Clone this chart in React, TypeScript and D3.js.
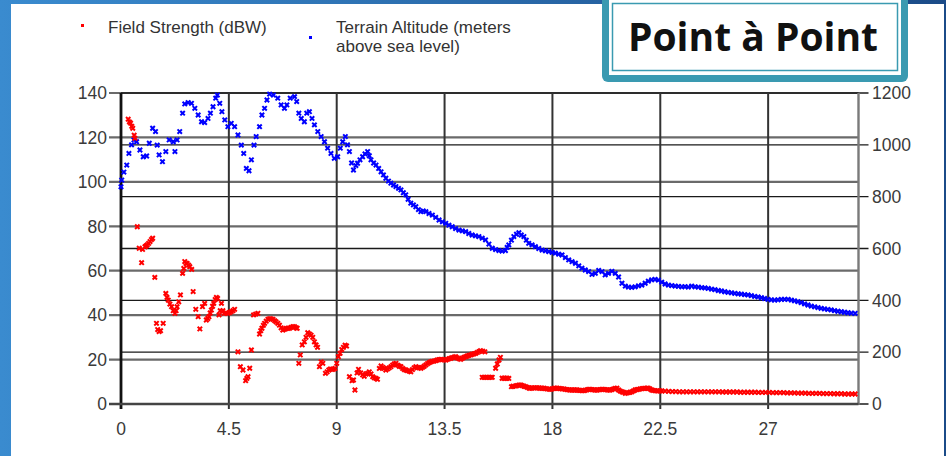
import React, { useEffect, useRef } from 'react';
import * as d3 from 'd3';

const title = 'Point à Point';
const legendField = 'Field Strength (dBW)';
const legendTerrain = ['Terrain Altitude (meters', 'above sea level)'];

const xTicks = [0, 4.5, 9, 13.5, 18, 22.5, 27];
const leftTicks = [0, 20, 40, 60, 80, 100, 120, 140];
const rightTicks = [0, 200, 400, 600, 800, 1000, 1200];

// [distance, dBW]
const fieldStrength: [number, number][] = [
  [0.30, 128.2], [0.35, 127], [0.40, 126.4], [0.45, 125], [0.49, 124.1], [0.55, 121], [0.58, 119.6],
  [0.68, 79.8], [0.76, 70.1], [0.86, 63.6], [0.90, 69.6], [1.00, 70.8], [1.05, 71.2], [1.09, 71.6],
  [1.15, 72.3], [1.21, 73.1], [1.27, 74], [1.32, 74.6], [1.41, 57.0], [1.48, 36.3], [1.53, 33.5],
  [1.59, 32.6], [1.65, 33], [1.76, 36.3], [1.87, 49.8], [1.92, 48], [1.97, 46.8], [2.04, 45],
  [2.11, 43.8], [2.18, 42], [2.25, 40.8], [2.30, 42], [2.34, 43.8], [2.41, 46], [2.48, 49.1],
  [2.57, 58.8], [2.62, 61], [2.66, 64.1], [2.71, 63.3], [2.76, 63.3], [2.82, 62.5], [2.87, 61.8],
  [2.95, 60.6], [3.01, 50.6], [3.12, 42.6], [3.22, 39.3], [3.29, 33.8], [3.40, 43.8], [3.49, 45.3],
  [3.56, 37.8], [3.62, 38.5], [3.67, 39.3], [3.72, 41], [3.77, 42.3], [3.82, 44], [3.87, 45.3],
  [3.93, 47], [3.98, 48.0], [4.03, 47.5], [4.09, 40.1], [4.14, 42], [4.19, 45.3], [4.25, 42],
  [4.30, 40.8], [4.38, 41], [4.46, 40.8], [4.53, 41.2], [4.60, 41.6], [4.67, 42], [4.74, 42.6],
  [4.88, 23.5], [4.98, 16.8], [5.09, 15.3], [5.20, 10.5], [5.25, 11.5], [5.30, 12.3], [5.37, 16.1],
  [5.44, 24.3], [5.53, 40.1], [5.62, 40.5], [5.71, 40.8], [5.78, 31.5], [5.83, 33], [5.88, 34.1],
  [5.94, 35.4], [5.99, 36.3], [6.06, 37.3], [6.13, 38.1], [6.20, 38.4], [6.27, 38.3], [6.34, 38.1],
  [6.41, 37.5], [6.47, 37], [6.54, 36.3], [6.61, 35.5], [6.68, 34.3], [6.75, 33.3], [6.82, 33.6],
  [6.89, 34], [6.96, 34.1], [7.03, 34.1], [7.10, 34.5], [7.17, 34.8], [7.24, 34.8], [7.30, 34.3],
  [7.35, 34.1], [7.42, 18.3], [7.48, 22.1], [7.56, 26.6], [7.65, 28.0], [7.72, 30], [7.79, 32.1],
  [7.86, 31.5], [7.93, 31], [8.00, 30.0], [8.07, 28], [8.14, 26.6], [8.20, 25.5], [8.28, 16.8],
  [8.35, 19], [8.42, 18.3], [8.53, 13.8], [8.60, 14.5], [8.67, 15.3], [8.74, 15.8], [8.80, 15.6],
  [8.86, 15.6], [8.93, 16], [9.00, 18.3], [9.07, 21.3], [9.14, 22.8], [9.21, 24.5], [9.28, 25.5],
  [9.35, 26.5], [9.41, 26.1], [9.53, 12.3], [9.64, 10.5], [9.70, 10.8], [9.76, 6.3], [9.85, 14],
  [9.91, 15.6], [10.00, 14], [10.08, 13.1], [10.15, 12.5], [10.22, 13.5], [10.29, 13.8], [10.36, 14.5],
  [10.43, 13.5], [10.50, 12.3], [10.57, 11.8], [10.64, 11.5], [10.70, 11.1], [10.78, 16], [10.85, 17.1],
  [10.92, 16.5], [10.98, 16], [11.05, 15.3], [11.12, 15.8], [11.19, 16.3], [11.26, 16.8], [11.33, 17.5],
  [11.40, 18], [11.47, 18.3], [11.54, 17.5], [11.61, 17], [11.68, 16.8], [11.75, 16], [11.82, 15.5],
  [11.88, 15.3], [11.95, 15], [12.02, 14.8], [12.09, 14.5], [12.16, 15.5], [12.23, 16.3], [12.30, 16.8],
  [12.37, 16.5], [12.44, 16.3], [12.51, 16.1], [12.58, 16.5], [12.65, 17], [12.72, 17.6], [12.79, 18.2],
  [12.86, 18.6], [12.92, 19.0], [12.99, 19.2], [13.06, 19.3], [13.13, 19.5], [13.20, 19.8], [13.27, 20],
  [13.34, 20.1], [13.41, 20], [13.48, 19.9], [13.55, 19.8], [13.62, 20.1], [13.69, 20.4], [13.76, 20.6],
  [13.83, 20.9], [13.90, 21.1], [13.96, 21.3], [14.03, 20.8], [14.10, 20.4], [14.17, 20.1], [14.24, 20.6],
  [14.31, 21], [14.38, 21.3], [14.45, 21.6], [14.52, 21.9], [14.59, 22.1], [14.66, 22.4], [14.73, 22.6],
  [14.80, 22.8], [14.87, 23.2], [14.94, 23.6], [15.00, 24.0], [15.09, 23.8], [15.18, 23.5],
  [15.07, 12.0], [15.14, 12.0], [15.21, 12.0], [15.28, 12.0], [15.35, 12.0], [15.42, 12.0], [15.49, 12.0],
  [15.63, 16.1], [15.70, 18], [15.77, 19.8], [15.83, 21.0], [15.90, 11.6], [15.97, 11.6], [16.04, 11.6],
  [16.11, 11.6], [16.18, 11.5], [16.29, 7.8], [16.36, 8], [16.46, 8.1], [16.53, 8.3], [16.60, 8.5],
  [16.67, 8.6], [16.74, 8.3], [16.81, 8], [16.88, 7.8], [16.95, 7.5], [17.02, 7.2], [17.08, 7.1],
  [17.15, 7.2], [17.22, 7.3], [17.29, 7.3], [17.36, 7.3], [17.43, 7.2], [17.50, 7.1], [17.57, 7.1],
  [17.64, 7.1], [17.71, 6.9], [17.78, 6.8], [17.85, 6.7], [17.92, 6.6], [17.99, 6.8], [18.06, 7],
  [18.12, 7.1], [18.19, 7.1], [18.26, 7], [18.33, 6.9], [18.40, 6.8], [18.47, 6.8], [18.54, 6.6],
  [18.61, 6.5], [18.68, 6.4], [18.75, 6.3], [18.82, 6.3], [18.89, 6.3], [18.96, 6.3], [19.02, 6.3],
  [19.09, 6.2], [19.16, 6.1], [19.23, 6.0], [19.30, 6.0], [19.37, 6.2], [19.44, 6.4], [19.51, 6.6],
  [19.58, 6.6], [19.65, 6.5], [19.72, 6.4], [19.79, 6.3], [19.85, 6.3], [19.92, 6.4], [19.99, 6.5],
  [20.06, 6.6], [20.13, 6.6], [20.20, 6.5], [20.27, 6.4], [20.34, 6.3], [20.41, 6.3], [20.48, 6.5],
  [20.55, 6.8], [20.62, 7.0], [20.69, 7.1], [20.76, 6.3], [20.83, 5.8], [20.90, 5.5], [20.96, 5.3],
  [21.04, 4.8], [21.10, 5.0], [21.17, 5.1], [21.24, 5.3], [21.31, 5.5], [21.38, 5.9], [21.45, 6.3],
  [21.52, 6.5], [21.59, 6.6], [21.66, 6.8], [21.73, 6.9], [21.80, 7.0], [21.87, 7.0], [21.94, 7.1],
  [22.00, 7.1], [22.07, 6.8], [22.14, 6.3], [22.21, 6.1], [22.28, 6.0], [22.35, 5.9], [22.42, 5.9],
  [22.49, 5.9], [22.56, 5.9], [22.70, 5.8], [22.85, 5.7], [23.00, 5.6], [23.15, 5.6], [23.30, 5.5],
  [23.45, 5.5], [23.60, 5.5], [23.75, 5.5], [23.90, 5.5], [24.05, 5.5], [24.20, 5.5], [24.35, 5.5],
  [24.50, 5.5], [24.65, 5.5], [24.80, 5.5], [24.95, 5.5], [25.10, 5.4], [25.25, 5.4], [25.40, 5.4],
  [25.55, 5.4], [25.70, 5.4], [25.85, 5.3], [26.00, 5.3], [26.15, 5.3], [26.30, 5.3], [26.45, 5.3],
  [26.60, 5.2], [26.75, 5.2], [26.90, 5.2], [27.05, 5.2], [27.20, 5.1], [27.35, 5.1], [27.50, 5.1],
  [27.65, 5.1], [27.80, 5.0], [27.95, 5.0], [28.10, 5.0], [28.25, 4.9], [28.40, 4.9], [28.55, 4.9],
  [28.70, 4.8], [28.85, 4.8], [29.00, 4.8], [29.15, 4.8], [29.30, 4.7], [29.45, 4.7], [29.60, 4.7],
  [29.75, 4.6], [29.90, 4.6], [30.05, 4.6], [30.20, 4.5], [30.35, 4.5], [30.50, 4.5], [30.63, 4.5],
];

// [distance, meters above sea level]
const terrainAltitude: [number, number][] = [
  [0.00, 838], [0.03, 864], [0.12, 895], [0.24, 922], [0.33, 967], [0.44, 1000], [0.54, 1019],
  [0.65, 1012], [0.79, 980], [0.93, 954], [1.07, 957], [1.18, 1006], [1.32, 1064], [1.44, 1051],
  [1.51, 999], [1.59, 961], [1.73, 935], [1.87, 974], [2.01, 1019], [2.18, 1012], [2.25, 974],
  [2.34, 1019], [2.45, 1051], [2.57, 1122], [2.66, 1158], [2.80, 1163], [2.94, 1160], [3.08, 1141],
  [3.22, 1115], [3.36, 1089], [3.49, 1086], [3.63, 1102], [3.73, 1122], [3.84, 1147], [3.95, 1180],
  [4.02, 1192], [4.12, 1160], [4.21, 1128], [4.33, 1096], [4.46, 1070], [4.60, 1083], [4.74, 1070],
  [4.88, 1038], [5.02, 999], [5.12, 967], [5.23, 909], [5.34, 900], [5.44, 942], [5.55, 999],
  [5.64, 1032], [5.78, 1070], [5.88, 1115], [5.99, 1141], [6.09, 1173], [6.20, 1196], [6.36, 1192],
  [6.54, 1180], [6.68, 1154], [6.82, 1141], [6.92, 1154], [7.06, 1180], [7.24, 1186], [7.33, 1167],
  [7.42, 1122], [7.52, 1102], [7.65, 1089], [7.75, 1122], [7.86, 1128], [7.97, 1102], [8.07, 1077],
  [8.21, 1051], [8.35, 1032], [8.49, 1012], [8.62, 987], [8.76, 967], [8.90, 948], [9.04, 954],
  [9.15, 987], [9.25, 1012], [9.36, 1032], [9.45, 1000], [9.53, 974], [9.62, 930], [9.70, 903],
  [9.80, 920], [9.87, 929], [9.97, 942], [10.08, 954], [10.18, 965], [10.29, 974], [10.36, 958],
  [10.43, 942], [10.54, 930], [10.64, 922], [10.75, 909], [10.85, 896], [10.95, 884], [11.05, 871],
  [11.16, 860], [11.26, 852], [11.37, 845], [11.47, 839], [11.58, 832], [11.68, 826], [11.78, 815],
  [11.88, 807], [11.98, 790], [12.09, 775], [12.20, 768], [12.30, 761], [12.41, 750], [12.51, 742],
  [12.61, 745], [12.72, 742], [12.85, 735], [12.99, 729], [13.13, 720], [13.27, 710], [13.41, 703],
  [13.55, 697], [13.68, 690], [13.82, 684], [13.96, 677], [14.10, 671], [14.24, 668], [14.38, 665],
  [14.51, 658], [14.65, 652], [14.79, 649], [14.93, 646], [15.07, 640], [15.21, 633], [15.35, 617],
  [15.49, 601], [15.63, 596], [15.77, 592], [15.90, 590], [16.04, 592], [16.11, 604], [16.18, 614],
  [16.29, 632], [16.39, 646], [16.50, 655], [16.60, 661], [16.70, 652], [16.81, 646], [16.91, 632],
  [17.01, 620], [17.15, 614], [17.29, 607], [17.43, 600], [17.57, 594], [17.71, 591], [17.85, 588],
  [17.99, 585], [18.12, 582], [18.26, 578], [18.40, 575], [18.54, 565], [18.68, 556], [18.82, 549],
  [18.96, 543], [19.10, 533], [19.23, 524], [19.37, 517], [19.51, 511], [19.65, 500], [19.79, 504],
  [19.93, 515], [20.07, 511], [20.20, 498], [20.34, 504], [20.48, 512], [20.62, 504], [20.76, 490],
  [20.90, 466], [21.04, 455], [21.17, 451], [21.31, 450], [21.45, 452], [21.59, 456], [21.73, 459],
  [21.87, 466], [22.00, 474], [22.14, 479], [22.28, 481], [22.42, 478], [22.56, 470], [22.70, 463],
  [22.84, 459], [22.98, 457], [23.12, 455], [23.26, 454], [23.40, 452], [23.53, 453], [23.67, 451],
  [23.81, 455], [23.95, 452], [24.09, 451], [24.23, 449], [24.36, 448], [24.50, 446], [24.64, 443],
  [24.78, 441], [24.92, 438], [25.05, 436], [25.19, 433], [25.33, 431], [25.47, 429], [25.61, 427],
  [25.75, 425], [25.88, 424], [26.02, 422], [26.16, 421], [26.30, 418], [26.44, 415], [26.58, 413],
  [26.72, 410], [26.85, 407], [26.99, 404], [27.13, 402], [27.27, 401], [27.41, 402], [27.55, 404],
  [27.69, 404], [27.83, 404], [27.97, 401], [28.10, 398], [28.24, 395], [28.38, 391], [28.52, 386],
  [28.66, 382], [28.80, 378], [28.94, 375], [29.08, 372], [29.21, 369], [29.35, 367], [29.49, 365],
  [29.63, 363], [29.77, 360], [29.91, 358], [30.05, 356], [30.19, 354], [30.33, 352], [30.47, 351],
  [30.63, 350],
];

const FONT = '"Liberation Sans", Arial, sans-serif';
const MARK = 'M-2.2,-2.2L2.2,2.2M-2.2,2.2L2.2,-2.2';

const App: React.FC = () => {
  const svgRef = useRef<SVGSVGElement>(null);

  useEffect(() => {
    if (!svgRef.current) return;
    const svg = d3.select(svgRef.current);
    svg.selectAll('*').remove();

    const W = 946;
    const H = 456;
    const left = 121, right = 858.5, top = 93, bottom = 404;

    const x = d3.scaleLinear().domain([0, 30.77]).range([left, right]);
    const yL = d3.scaleLinear().domain([0, 140]).range([bottom, top]);
    const yR = d3.scaleLinear().domain([0, 1200]).range([bottom, top]);

    // slide frame
    const grad = svg.append('defs').append('linearGradient')
      .attr('id', 'band').attr('x1', '0').attr('x2', '1');
    grad.append('stop').attr('offset', '0').attr('stop-color', '#3a8bcf');
    grad.append('stop').attr('offset', '1').attr('stop-color', '#1b4b88');
    svg.append('rect').attr('width', W).attr('height', H).attr('fill', 'url(#band)');
    svg.append('rect').attr('x', 11).attr('y', 4).attr('width', 933).attr('height', H - 4).attr('fill', '#fff');

    // gridlines tied to the left axis
    svg.append('g').selectAll('line').data(leftTicks).enter().append('line')
      .attr('x1', left - 12).attr('x2', right)
      .attr('y1', d => yL(d)).attr('y2', d => yL(d))
      .attr('stroke', '#6a6a6a').attr('stroke-width', 2.2);

    // gridlines tied to the right axis
    svg.append('g').selectAll('line').data(rightTicks).enter().append('line')
      .attr('x1', left).attr('x2', right + 10)
      .attr('y1', d => yR(d)).attr('y2', d => yR(d))
      .attr('stroke', '#1a1a1a').attr('stroke-width', 1.3);

    // vertical gridlines
    svg.append('g').selectAll('line').data(xTicks).enter().append('line')
      .attr('x1', d => x(d)).attr('x2', d => x(d))
      .attr('y1', top).attr('y2', bottom + 5)
      .attr('stroke', d => (d === 0 ? '#111' : '#333'))
      .attr('stroke-width', d => (d === 0 ? 2.8 : 2));

    // right axis line
    svg.append('line').attr('x1', right).attr('x2', right).attr('y1', top).attr('y2', bottom + 1)
      .attr('stroke', '#7a7a7a').attr('stroke-width', 2.4);
    // bottom axis
    svg.append('line').attr('x1', left - 12).attr('x2', right).attr('y1', bottom).attr('y2', bottom)
      .attr('stroke', '#444').attr('stroke-width', 2.4);

    // tick labels
    svg.append('g').selectAll('text').data(leftTicks).enter().append('text')
      .attr('x', 107).attr('y', d => yL(d)).attr('dy', '0.36em')
      .attr('text-anchor', 'end').attr('font-family', FONT).attr('font-size', 17.5)
      .attr('fill', '#3a3a3a').text(d => d);
    svg.append('g').selectAll('text').data(rightTicks).enter().append('text')
      .attr('x', 872).attr('y', d => yR(d)).attr('dy', '0.36em')
      .attr('text-anchor', 'start').attr('font-family', FONT).attr('font-size', 17.5)
      .attr('fill', '#3a3a3a').text(d => d);
    svg.append('g').selectAll('text').data(xTicks).enter().append('text')
      .attr('x', d => x(d)).attr('y', 435)
      .attr('text-anchor', 'middle').attr('font-family', FONT).attr('font-size', 17.5)
      .attr('fill', '#3a3a3a').text(d => d);

    // terrain points
    svg.append('g').selectAll('path').data(terrainAltitude).enter().append('path')
      .attr('d', MARK)
      .attr('transform', d => `translate(${x(d[0])},${yR(d[1])})`)
      .attr('stroke', '#0000ff').attr('stroke-width', 2).attr('fill', 'none');

    // field strength points
    svg.append('g').selectAll('path').data(fieldStrength).enter().append('path')
      .attr('d', MARK)
      .attr('transform', d => `translate(${x(d[0])},${yL(d[1])})`)
      .attr('stroke', '#ff0000').attr('stroke-width', 2).attr('fill', 'none');

    // legend
    svg.append('rect').attr('x', 81).attr('y', 24).attr('width', 3).attr('height', 3).attr('fill', '#ff0000');
    svg.append('text').attr('x', 108).attr('y', 33).attr('font-family', FONT).attr('font-size', 17)
      .attr('fill', '#333').text(legendField);
    svg.append('rect').attr('x', 309).attr('y', 36).attr('width', 3).attr('height', 3).attr('fill', '#0000ff');
    svg.append('g').selectAll('text').data(legendTerrain).enter().append('text')
      .attr('x', 336).attr('y', (_d, i) => 33 + i * 19)
      .attr('font-family', FONT).attr('font-size', 17).attr('fill', '#333').text(d => d);

    // title box
    svg.append('rect').attr('x', 602).attr('y', -8).attr('width', 306).attr('height', 90)
      .attr('rx', 6).attr('fill', '#3a9ab1');
    svg.append('rect').attr('x', 609).attr('y', 0).attr('width', 292).attr('height', 75).attr('fill', '#fff');
    svg.append('rect').attr('x', 612.5).attr('y', 3.5).attr('width', 285).attr('height', 67)
      .attr('fill', 'none').attr('stroke', '#3a9ab1').attr('stroke-width', 1.5);
    svg.append('text').attr('x', 753).attr('y', 51).attr('text-anchor', 'middle')
      .attr('font-family', '"Open Sans", sans-serif').attr('font-weight', 700).attr('font-size', 39)
      .attr('fill', '#111').text(title);
  }, []);

  return (
    <div style={{ position: 'fixed', left: 0, top: 0 }}>
      <svg ref={svgRef} width={946} height={456} style={{ display: 'block' }} />
    </div>
  );
};

export default App;
